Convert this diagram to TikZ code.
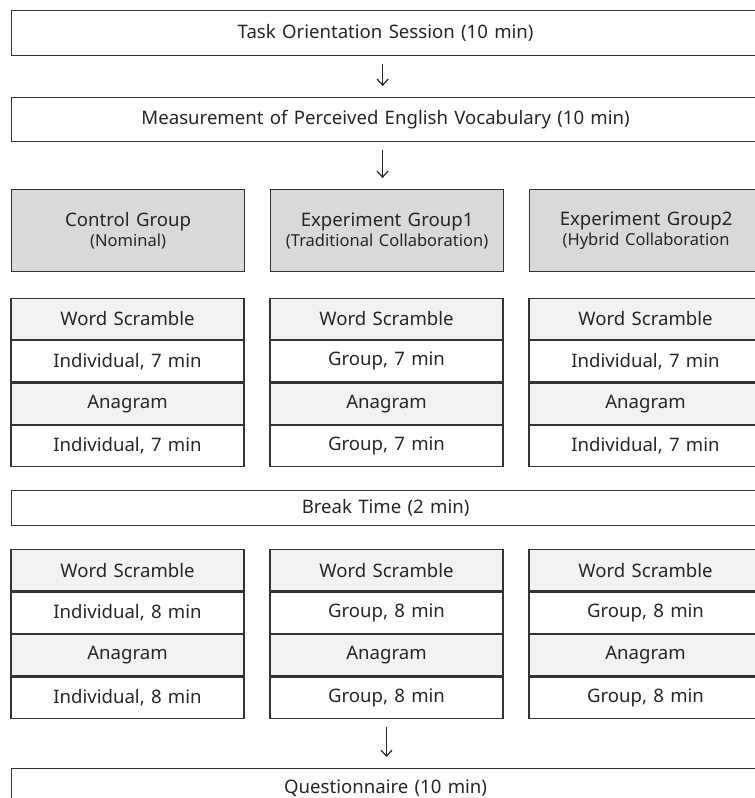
\documentclass[tikz,border=0pt]{standalone}
\usepackage{fontspec}
\setmainfont{Noto Sans}[WordSpace=1.3]
\usetikzlibrary{arrows.meta}

\begin{document}
\begin{tikzpicture}[x=1pt,y=-1pt,
        box/.style={draw=black!80,line width=1.2pt,anchor=north west,inner sep=0pt,
            text=black!85,font=\fontsize{18.6}{21}\selectfont},
        wide/.style={box,minimum width=748,minimum height=#1},
        head/.style={box,fill=gray!30,minimum width=233,minimum height=82,align=center},
        cell/.style={box,minimum width=233,minimum height=41.25,anchor=north},
        title/.style={cell,fill=gray!10},
        flow/.style={-{Straight Barb[length=6pt,width=11pt]},line width=1.2pt,black!85,
            shorten <=8pt,shorten >=11pt}
    ]
    \useasboundingbox (0,0) rectangle (755,798);
    \clip (0,0) rectangle (755,798);

    \node[wide=45] (task) at (11,10) {Task Orientation Session (10 min)};
    \node[wide=44] (measure) at (11,97) {Measurement of Perceived English Vocabulary (10 min)};

    \node[head] (ctrl) at (11,189) {Control Group\\[-1pt]{\fontsize{16.5}{19}\selectfont (Nominal)}};
    \node[head] (exp1) at (270,189) {Experiment Group1\\[-1pt]{\fontsize{16.5}{19}\selectfont (Traditional Collaboration)}};
    \node[head] (exp2) at (529,189) {Experiment Group2\\[-1pt]{\fontsize{16.5}{19}\selectfont (Hybrid Collaboration}};

    % first session
    \foreach \col/\x/\who in {a/127.5/Individual, b/386.5/Group, c/645.5/Individual} {
        \node[title] (\col1) at (\x,297.5) {Word Scramble};
        \node[cell] (\col2) at (\col1.south) {\who, 7 min};
        \node[title] (\col3) at (\col2.south) {Anagram};
        \node[cell] (\col4) at (\col3.south) {\who, 7 min};
    }

    \node[wide=35] (break) at (11,490) {Break Time (2 min)};

    % second session
    \foreach \col/\x/\who in {d/127.5/Individual, e/386.5/Group, f/645.5/Group} {
        \node[title] (\col1) at (\x,549) {Word Scramble};
        \node[cell] (\col2) at (\col1.south) {\who, 8 min};
        \node[title] (\col3) at (\col2.south) {Anagram};
        \node[cell] (\col4) at (\col3.south) {\who, 8 min};
    }

    \node[wide=40] (quest) at (11,768) {Questionnaire (10 min)};

    \draw[flow] ([xshift=-3pt]task.south) -- ([xshift=-3pt]measure.north);
    \draw[flow] ([xshift=-3pt]measure.south) -- ([xshift=-3pt]measure.south |- exp1.north);
    \draw[flow] (e4) -- (e4 |- quest.north);
\end{tikzpicture}
\end{document}
